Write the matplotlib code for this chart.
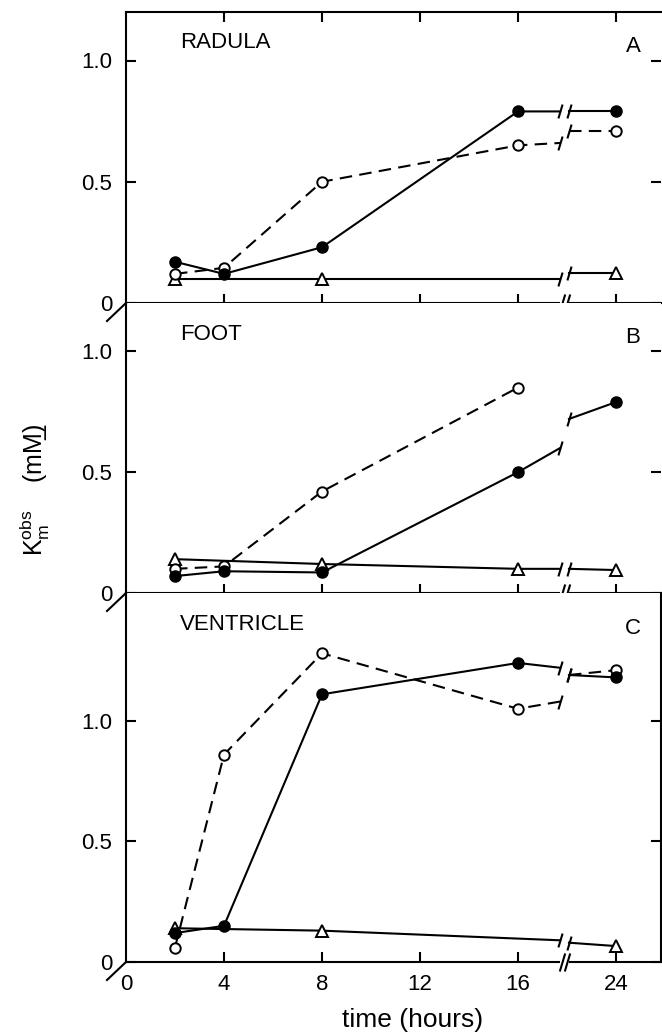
import numpy as np
import matplotlib
matplotlib.use("Agg")
import matplotlib.pyplot as plt
from matplotlib.path import Path
from matplotlib.lines import Line2D

plt.rcParams['font.family'] = ['Liberation Sans', 'DejaVu Sans']
plt.rcParams['mathtext.fontset'] = 'custom'
plt.rcParams['mathtext.rm'] = 'Liberation Sans'

# ---------------- data ----------------
times = [2, 4, 8, 16, 24]
x_tick_values = [0, 4, 8, 12, 16, 24]
x_tick_labels = ['0', '4', '8', '12', '16', '24']
y_tick_values = [0, 0.5, 1.0]
y_tick_labels = ['0', '0.5', '1.0']
panel_names = ['RADULA', 'FOOT', 'VENTRICLE']
panel_letters = ['A', 'B', 'C']
panel_ymax = [1.20, 1.20, 1.53]

nan = np.nan
# values at times 2, 4, 8, 16, 24 h (nan = no marker drawn there)
radula_filled = [0.17, 0.12, 0.23, 0.79, 0.79]
radula_open = [0.12, 0.145, 0.50, 0.65, 0.71]
radula_tri = [0.10, nan, 0.10, nan, 0.124]
# values where each line meets the axis break (left side, right side)
radula_filled_brk = [0.79, 0.79]
radula_open_brk = [0.66, 0.71]
radula_tri_brk = [0.10, 0.124]

foot_filled = [0.07, 0.09, 0.085, 0.50, 0.79]
foot_open = [0.10, 0.11, 0.42, 0.85, nan]
foot_tri = [0.14, nan, 0.12, 0.10, 0.095]
foot_filled_brk = [0.60, 0.72]
foot_open_brk = None
foot_tri_brk = [0.10, 0.10]

ventricle_filled = [0.12, 0.15, 1.11, 1.24, 1.18]
ventricle_open = [0.06, 0.86, 1.28, 1.05, 1.21]
ventricle_tri = [0.14, nan, 0.13, nan, 0.066]
ventricle_filled_brk = [1.22, 1.19]
ventricle_open_brk = [1.08, 1.19]
ventricle_tri_brk = [0.09, 0.08]

# ---------------- layout ----------------
W, H = 662, 1035
fig = plt.figure(figsize=(W / 100, H / 100), dpi=100)

X0, XR = 126, 661
PX_PER_H = 24.5
panel_px = [(12, 303), (303, 593), (593, 962)]
BREAK_POS = 17.9       # axis position of the break (between 16 and 24 h)
BREAK_L, BREAK_R = 17.72, 18.08
POS24 = 20.0


def tpos(t):
    return t if t <= 16 else POS24


def fx(x):
    return x / W


def fy(y):
    return 1 - y / H


brk_path = Path([(-0.3, -1.0), (0.3, 1.0)], [Path.MOVETO, Path.LINETO])
LW = 1.5
FS = 16

axes = []
for i, (top, bot) in enumerate(panel_px):
    ax = fig.add_axes([fx(X0), fy(bot), (XR - X0) / W, (bot - top) / H])
    ax.set_xlim(0, (XR - X0) / PX_PER_H)
    ax.set_ylim(0, panel_ymax[i])
    for s in ax.spines.values():
        s.set_linewidth(LW)
    ax.spines['top'].set_visible(i == 0)
    ax.spines['right'].set_visible(i == 2)
    ax.set_xticks([tpos(t) for t in x_tick_values])
    ax.set_yticks(y_tick_values)
    ax.set_yticklabels(y_tick_labels)
    ax.tick_params(axis='y', which='both', direction='in', length=7, width=LW,
                   labelsize=FS, pad=10, right=True, left=True)
    if i < 2:
        ax.tick_params(axis='x', direction='inout', length=13, width=LW,
                       labelbottom=False)
    else:
        ax.set_xticklabels(x_tick_labels)
        ax.tick_params(axis='x', direction='in', length=7, width=LW,
                       labelsize=FS, pad=9)
    axes.append(ax)

# top ticks of panel A point inward only
axes[0].xaxis.set_tick_params(which='major', top=True)
for t in axes[0].xaxis.get_major_ticks():
    t.tick2line.set_markersize(7)
    t.tick2line.set_marker(3)  # TICKDOWN
    t.tick1line.set_marker('|')
for t in axes[1].xaxis.get_major_ticks():
    t.tick1line.set_marker('|')

# hide tick at x=0
for ax in axes:
    ax.xaxis.get_major_ticks()[0].tick1line.set_visible(False)
    ax.xaxis.get_major_ticks()[0].tick2line.set_visible(False)

# axis breaks on bottom spines
for ax in axes:
    ax.plot([BREAK_POS - 0.18, BREAK_POS + 0.18], [0, 0], color='white', lw=4,
            clip_on=False, zorder=5, solid_capstyle='butt')
    ax.plot([BREAK_POS - 0.1, BREAK_POS + 0.1], [0, 0], ls='none',
            marker=brk_path, ms=13, mew=LW, mfc='none', mec='black',
            clip_on=False, zorder=6)

# diagonal strokes at left spine origins
for (top, bot) in panel_px:
    fig.add_artist(Line2D([fx(X0), fx(X0 - 19)], [fy(bot), fy(bot + 18)],
                          color='black', lw=LW, transform=fig.transFigure))


def draw_series(ax, vals, brk, kind):
    if kind == 'filled':
        mk = dict(marker='o', ms=8, mfc='black', mec='black', mew=1)
        ls = '-'
    elif kind == 'open':
        mk = dict(marker='o', ms=7.5, mfc='white', mec='black', mew=1.4)
        ls = (0, (6, 3.5))
    else:
        mk = dict(marker='^', ms=8, mfc='white', mec='black', mew=1.4)
        ls = '-'
    lx, ly = [], []
    for t, v in zip(times, vals):
        if t <= 16 and not np.isnan(v):
            lx.append(tpos(t))
            ly.append(v)
    if brk is not None:
        lx.append(BREAK_L)
        ly.append(brk[0])
    ax.plot(lx, ly, color='black', lw=LW, ls=ls, zorder=2)
    v24 = vals[-1]
    if brk is not None and not np.isnan(v24):
        ax.plot([BREAK_R, POS24], [brk[1], v24], color='black', lw=LW, ls=ls,
                zorder=2)
        ax.plot([BREAK_L, BREAK_R], brk, ls='none', marker=brk_path, ms=10,
                mew=LW, mfc='none', mec='black', zorder=3)
    mx = [tpos(t) for t, v in zip(times, vals) if not np.isnan(v)]
    my = [v for v in vals if not np.isnan(v)]
    ax.plot(mx, my, ls='none', color='black', zorder=4, clip_on=False, **mk)


series = [
    (radula_tri, radula_tri_brk, radula_open, radula_open_brk, radula_filled, radula_filled_brk),
    (foot_tri, foot_tri_brk, foot_open, foot_open_brk, foot_filled, foot_filled_brk),
    (ventricle_tri, ventricle_tri_brk, ventricle_open, ventricle_open_brk,
     ventricle_filled, ventricle_filled_brk),
]
for ax, (tv, tb, ov, ob, fv, fb) in zip(axes, series):
    draw_series(ax, tv, tb, 'tri')
    draw_series(ax, ov, ob, 'open')
    draw_series(ax, fv, fb, 'filled')

# panel titles and letters
for i, (top, bot) in enumerate(panel_px):
    fig.text(fx(180), fy(top + 31), panel_names[i], ha='left', va='center',
             fontsize=FS)
    fig.text(fx(633), fy(top + 35), panel_letters[i], ha='center', va='center',
             fontsize=FS)

fig.text(fx(413), fy(1020), 'time (hours)', ha='center', va='center',
         fontsize=19)
fig.text(fx(35), fy(490), r'$\mathregular{K_m^{obs}}$    (mM' + '\u0332' + ')',
         rotation=90, ha='center', va='center', fontsize=18)

fig.savefig('out.png', dpi=100, facecolor='white')
